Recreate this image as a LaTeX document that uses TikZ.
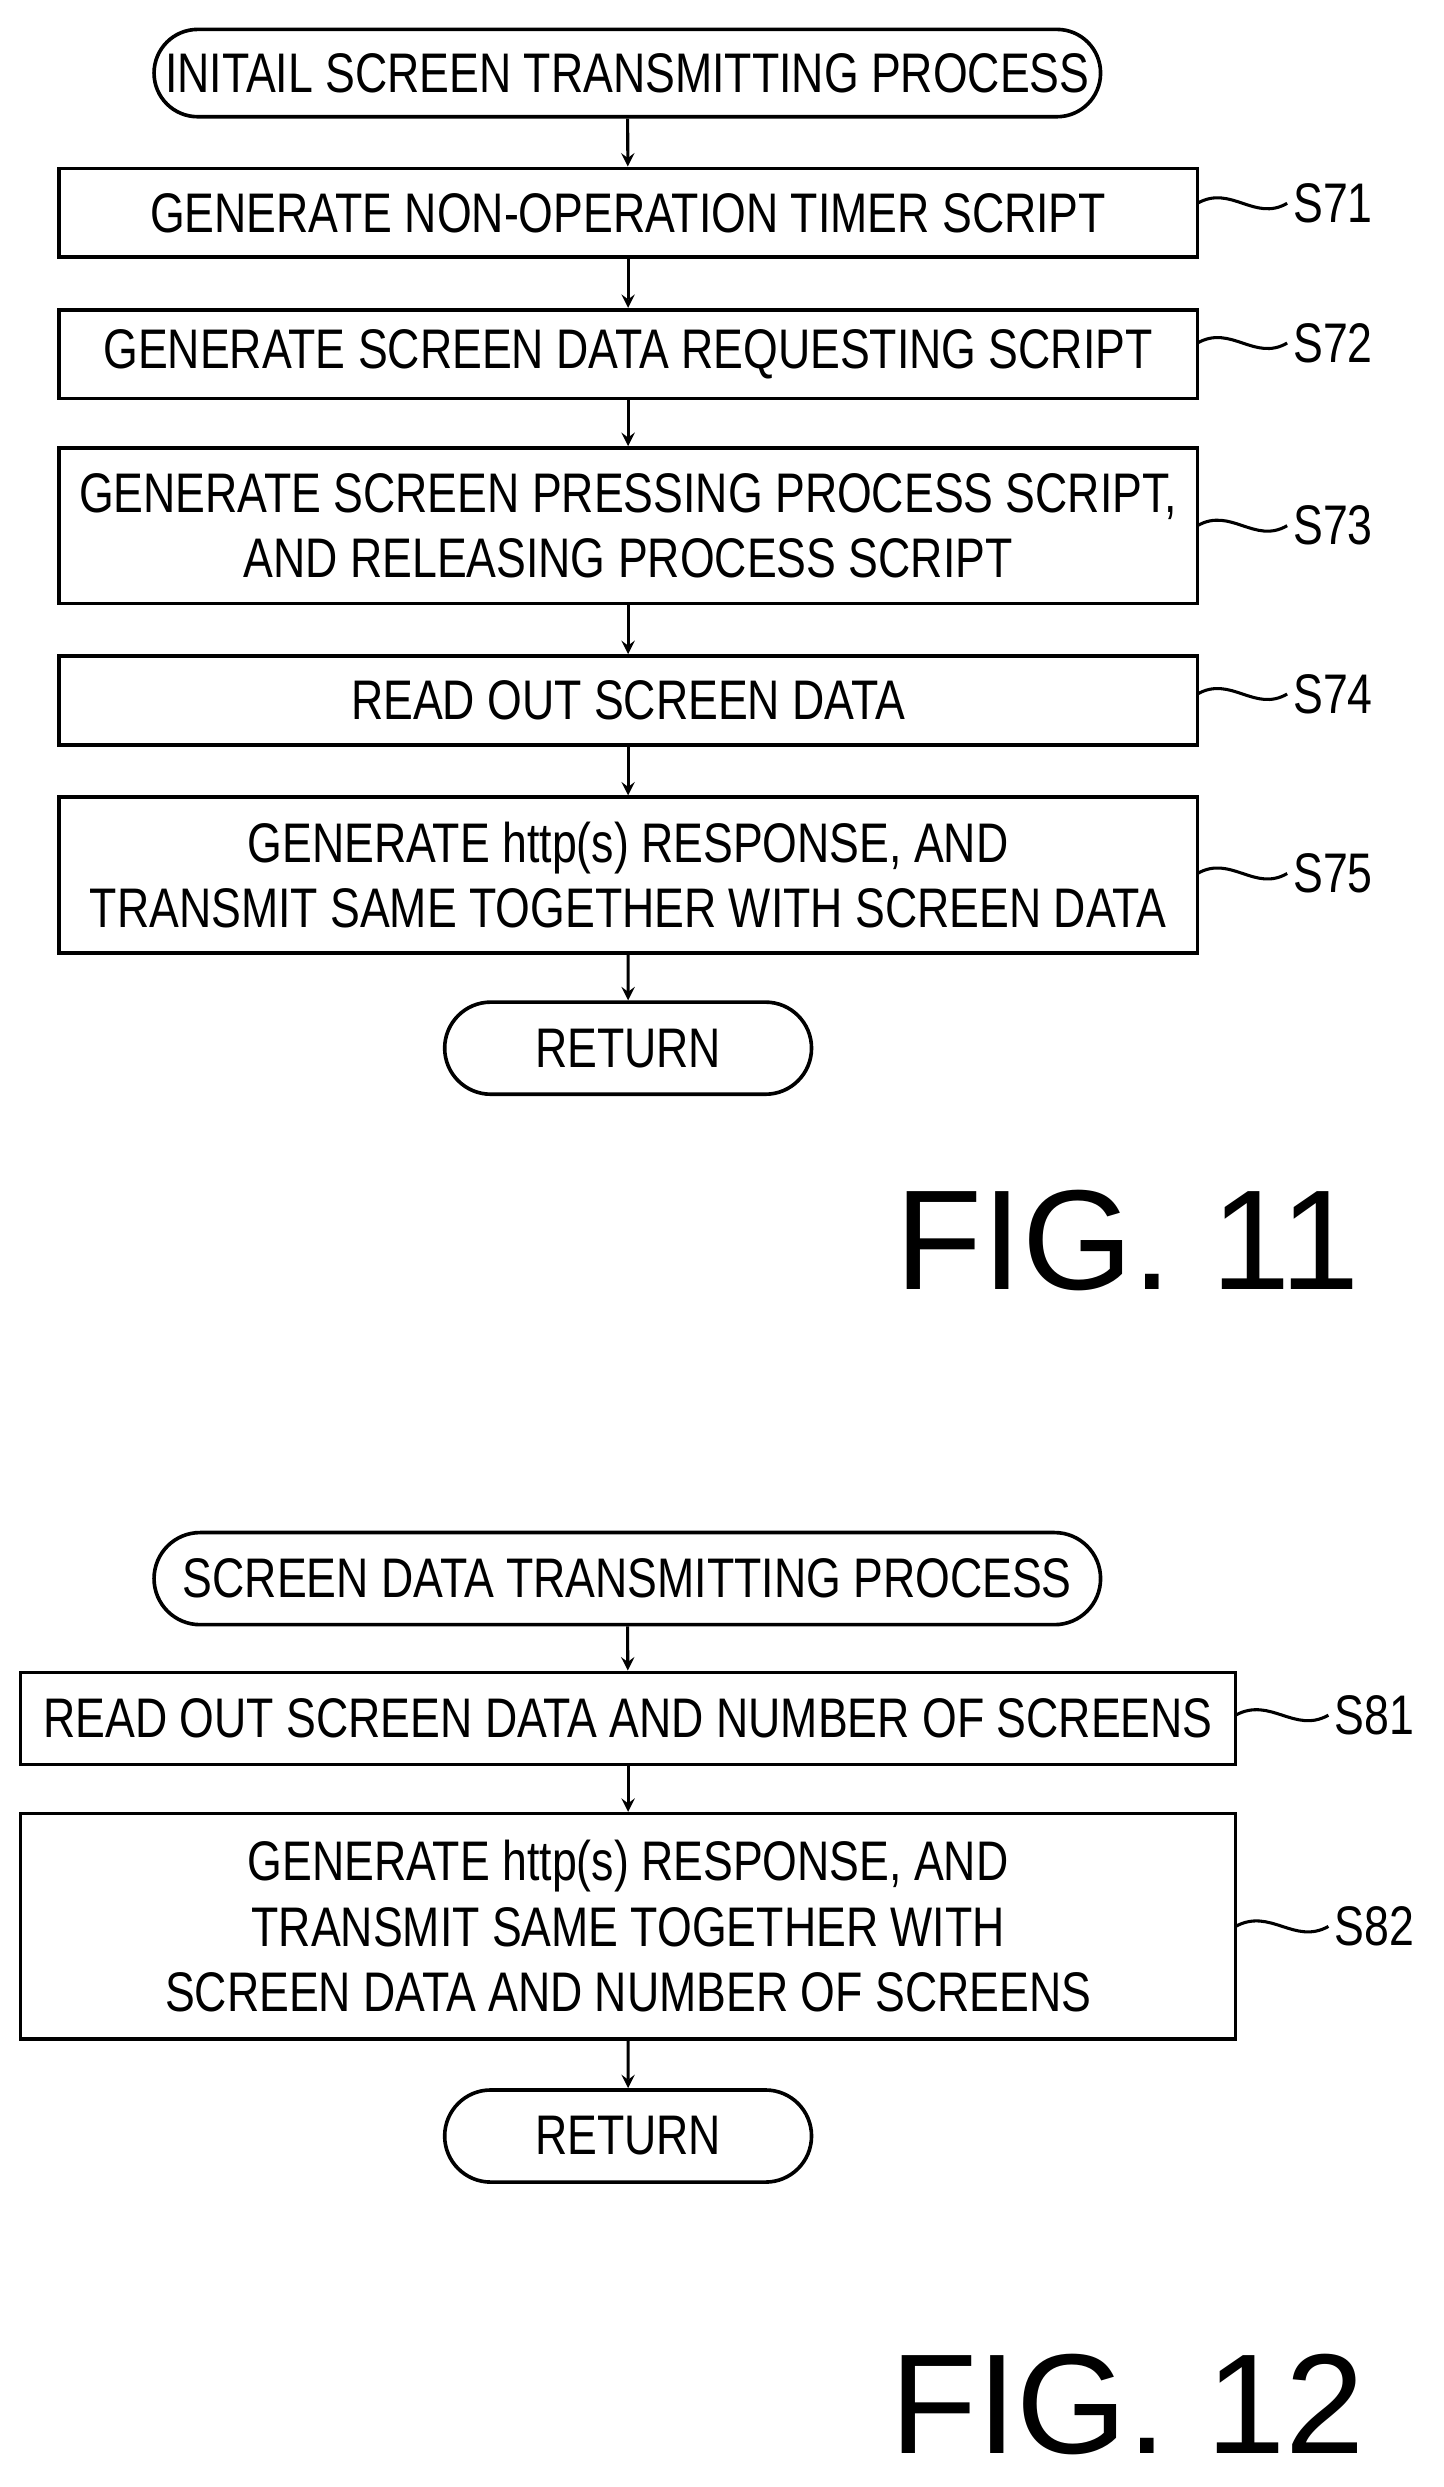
\documentclass[tikz,border=0pt]{standalone}
\usepackage{fontspec}
\setmainfont{Liberation Sans}[FakeStretch=0.8]
\newfontfamily\figfont{Liberation Sans}
\usetikzlibrary{shapes.misc}
\begin{document}
\begin{tikzpicture}[x=0.02cm,y=-0.02cm,
 box/.style={draw,line width=1.3pt,rectangle,minimum height=56*0.02cm,align=center,font=\fontsize{20}{23.5}\selectfont,inner sep=0pt},
 term/.style={draw,line width=1.3pt,rounded rectangle,minimum height=55*0.02cm,font=\fontsize{20}{23.5}\selectfont,inner sep=0pt},
 arr/.style={->,line width=1.1pt,>=stealth},
 lab/.style={font=\fontsize{20}{23.5}\selectfont,anchor=west,inner sep=0pt},
 wav/.style={line width=1.1pt},
 fig/.style={font=\figfont\fontsize{51}{56}\selectfont,inner sep=0pt}]
\useasboundingbox (0,0) rectangle (909,1566);
\node[term,minimum width=596*0.02cm] (st1) at (395,46) {INITAIL SCREEN TRANSMITTING PROCESS};
\node[box,minimum width=717*0.02cm] (s71) at (395.5,134) {GENERATE NON-OPERATION TIMER SCRIPT};
\node[box,minimum width=717*0.02cm] (s72) at (395.5,223) {GENERATE SCREEN DATA REQUESTING SCRIPT};
\node[box,minimum width=717*0.02cm,minimum height=98*0.02cm] (s73) at (395.5,331) {GENERATE SCREEN PRESSING PROCESS SCRIPT,\\AND RELEASING PROCESS SCRIPT};
\node[box,minimum width=717*0.02cm] (s74) at (395.5,441) {READ OUT SCREEN DATA};
\node[box,minimum width=717*0.02cm,minimum height=98*0.02cm] (s75) at (395.5,551) {GENERATE http(s) RESPONSE, AND\\TRANSMIT SAME TOGETHER WITH SCREEN DATA};
\node[term,minimum width=231*0.02cm,minimum height=58*0.02cm] (r1) at (395.5,660) {RETURN};
\foreach \a/\b in {st1/s71,s71/s72,s72/s73,s73/s74,s74/s75,s75/r1} \draw[arr] (\a) -- (\b);
\foreach \n/\y/\t in {s71/128/S71,s72/216/S72,s73/331/S73,s74/437/S74,s75/550/S75}{
 \node[lab] (l\n) at (814,\y) {\t};
 \draw[wav] (754,\y) .. controls (775,\y-12) and (790,\y+12) .. ([xshift=-2pt]l\n.west);}
\node[fig] (f11) at (710,781) {FIG. 11};

\node[term,minimum width=596*0.02cm,minimum height=58*0.02cm] (st2) at (395,994) {SCREEN DATA TRANSMITTING PROCESS};
\node[box,minimum width=765*0.02cm,minimum height=58*0.02cm] (s81) at (395.5,1082) {READ OUT SCREEN DATA AND NUMBER OF SCREENS};
\node[box,minimum width=765*0.02cm,minimum height=142*0.02cm] (s82) at (395.5,1213) {GENERATE http(s) RESPONSE, AND\\TRANSMIT SAME TOGETHER WITH\\SCREEN DATA AND NUMBER OF SCREENS};
\node[term,minimum width=231*0.02cm,minimum height=58*0.02cm] (r2) at (395.5,1345) {RETURN};
\foreach \a/\b in {st2/s81,s81/s82,s82/r2} \draw[arr] (\a) -- (\b);
\foreach \n/\y/\t in {s81/1080/S81,s82/1213/S82}{
 \node[lab] (l\n) at (840,\y) {\t};
 \draw[wav] (778,\y) .. controls (800,\y-12) and (815,\y+12) .. ([xshift=-2pt]l\n.west);}
\node[fig] (f12) at (710,1514) {FIG. 12};
\end{tikzpicture}
\end{document}
